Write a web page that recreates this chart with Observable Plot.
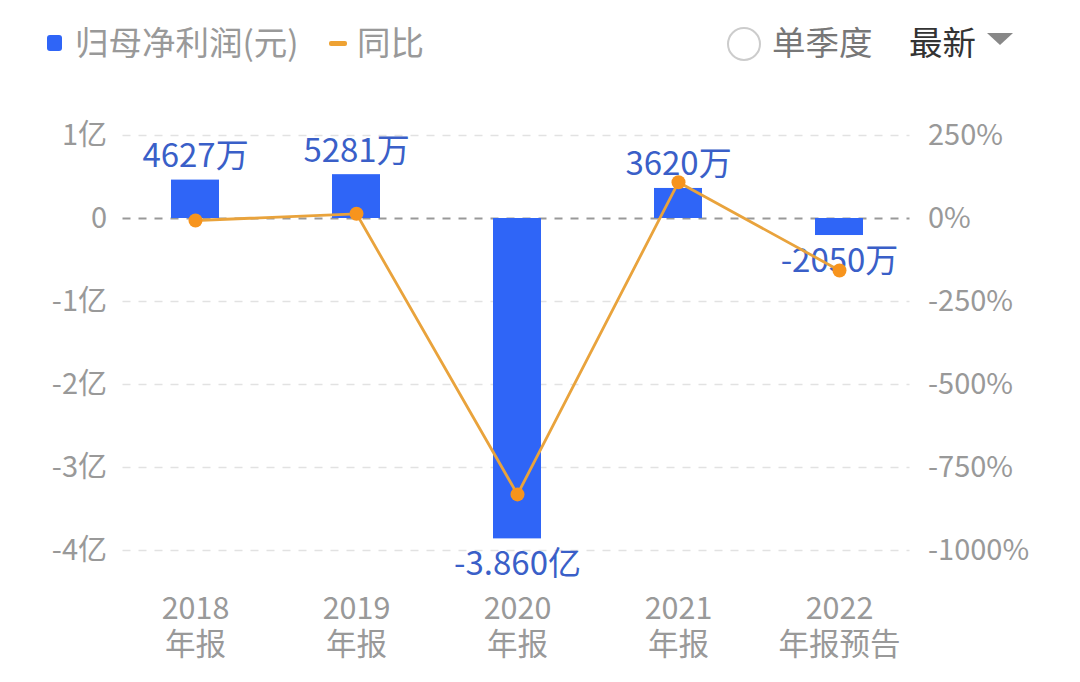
<!DOCTYPE html>
<html><head><meta charset="utf-8">
<script src="https://cdn.jsdelivr.net/npm/d3@7"></script>
<script src="https://cdn.jsdelivr.net/npm/@observablehq/plot@0.6"></script>
<style>
body{margin:0;background:#fff;font-family:"Noto Sans CJK SC","Noto Sans",sans-serif;}
#wrap{position:relative;width:1080px;height:682px;overflow:hidden;}
#wrap svg{position:absolute;left:0;top:0;}
.lg{position:absolute;font-size:33.5px;line-height:1;white-space:nowrap;}
</style></head>
<body><div id="wrap">
<div class="lg" style="left:47px;top:35px;width:15px;height:16px;background:#2f65f7;border-radius:3px;"></div>
<div class="lg" style="left:75px;top:24px;color:#999;">归母净利润(元)</div>
<div class="lg" style="left:329px;top:41px;width:18px;height:5px;background:#eea233;border-radius:2px;"></div>
<div class="lg" style="left:357px;top:24px;color:#999;">同比</div>
<div class="lg" style="left:727px;top:27px;width:34px;height:34px;border:2px solid #ccc;border-radius:50%;box-sizing:border-box;"></div>
<div class="lg" style="left:772px;top:24px;color:#777;">单季度</div>
<div class="lg" style="left:909px;top:24px;color:#333;">最新</div>
<div class="lg" style="left:987px;top:33px;width:0;height:0;border-left:13px solid transparent;border-right:13px solid transparent;border-top:12px solid #888;"></div>
</div>
<script>
const years = ["2018", "2019", "2020", "2021", "2022"];
const yearSuffix = ["年报", "年报", "年报", "年报", "年报预告"];
const profit = [4627e4, 5281e4, -3.860e8, 3620e4, -2050e4];
const profitLabels = ["4627万", "5281万", "-3.860亿", "3620万", "-2050万"];
const yoyPct = [-6, 14.1, -831, 109.4, -156.6];
const leftTicks = [1e8, 0, -1e8, -2e8, -3e8, -4e8];
const leftTickLabels = ["1亿", "0", "-1亿", "-2亿", "-3亿", "-4亿"];
const rightTickLabels = ["250%", "0%", "-250%", "-500%", "-750%", "-1000%"];

const pctToY = 1e8 / 250; // right axis: 250% aligns with 1亿
const data = years.map((y, i) => ({year: y, value: profit[i], label: profitLabels[i], yoy: yoyPct[i] * pctToY}));
const leftFmt = new Map(leftTicks.map((t, i) => [t, leftTickLabels[i]]));
const rightFmt = new Map(leftTicks.map((t, i) => [t, rightTickLabels[i]]));
const suffixFmt = new Map(years.map((y, i) => [y, yearSuffix[i]]));
const font = '"Noto Sans CJK SC","Noto Sans",sans-serif';

const chart = Plot.plot({
  width: 1080,
  height: 682,
  marginTop: 135,
  marginBottom: 132,
  marginLeft: 114.5,
  marginRight: 160.5,
  style: {fontFamily: font, background: "transparent", overflow: "visible"},
  x: {domain: years, paddingInner: 0.7, paddingOuter: 0.35, label: null},
  y: {domain: [-4e8, 1e8], label: null},
  marks: [
    Plot.ruleY(leftTicks.filter(d => d !== 0), {stroke: "#e2e2e2", strokeWidth: 1.5, strokeDasharray: "8,8", insetLeft: 8, insetRight: 10}),
    Plot.ruleY([0], {stroke: "#999", strokeWidth: 2, strokeDasharray: "8,8", insetLeft: 8, insetRight: 10}),
    Plot.barY(data, {x: "year", y: "value", fill: "#2f65f7"}),
    Plot.text(data.filter(d => d.value >= 0), {x: "year", y: "value", text: "label", lineAnchor: "bottom", dy: -13, fill: "#3a5fc8", fontSize: 33}),
    Plot.text(data.filter(d => d.value < 0), {x: "year", y: "value", text: "label", lineAnchor: "top", dy: 13, fill: "#3a5fc8", fontSize: 33}),
    Plot.line(data, {x: "year", y: "yoy", stroke: "#e9a33c", strokeWidth: 2.8}),
    Plot.dot(data, {x: "year", y: "yoy", r: 7, fill: "#f7941d", stroke: "none"}),
    Plot.axisY({anchor: "left", ticks: leftTicks, tickSize: 0, tickPadding: 8, tickFormat: d => leftFmt.get(d), fontSize: 29, color: "#999"}),
    Plot.axisY({anchor: "right", ticks: leftTicks, tickSize: 0, tickPadding: 8, tickFormat: d => rightFmt.get(d), fontSize: 29, color: "#999"}),
    Plot.axisX({anchor: "bottom", tickSize: 0, tickPadding: 47, fontSize: 30.5, color: "#999"}),
    Plot.axisX({anchor: "bottom", tickSize: 0, tickPadding: 83, fontSize: 30.5, color: "#999", tickFormat: d => suffixFmt.get(d)})
  ]
});
document.getElementById("wrap").prepend(chart);
</script>
</body></html>
